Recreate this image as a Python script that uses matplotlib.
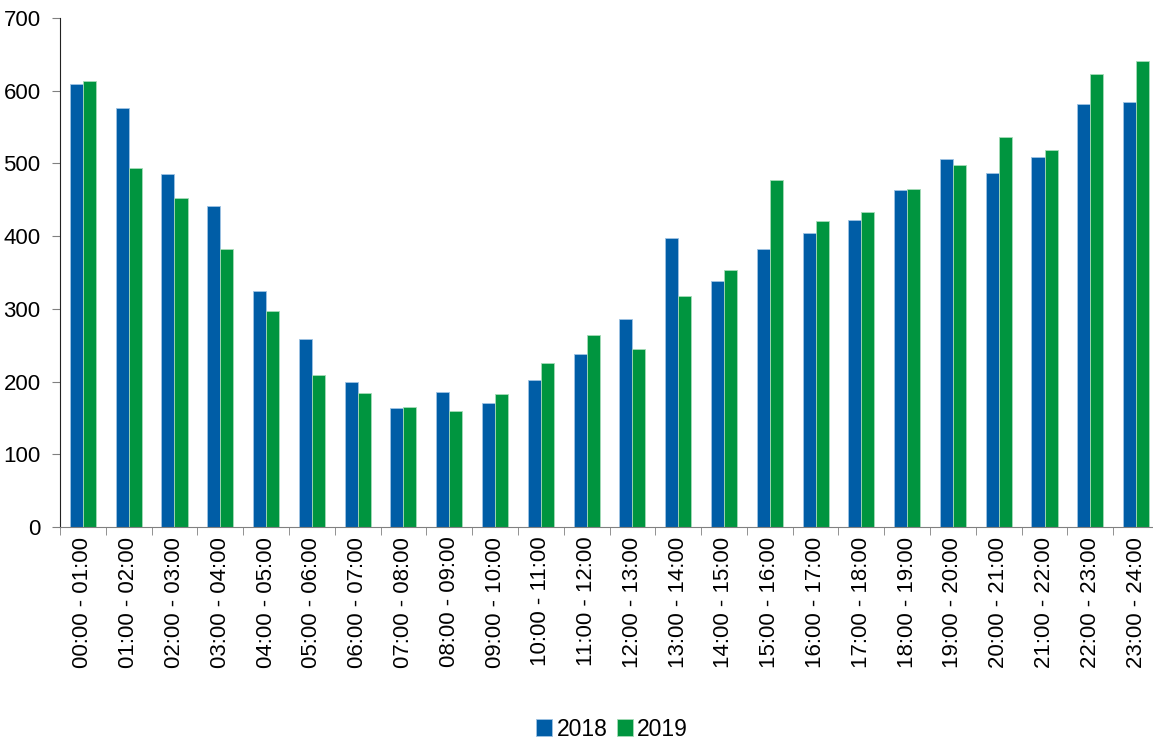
import numpy as np
import matplotlib.pyplot as plt

plt.rcParams['font.family'] = ['Liberation Sans', 'DejaVu Sans']

hours = [f"{h:02d}:00 - {h + 1:02d}:00" for h in range(24)]
v2018 = [609, 576, 485, 441, 324, 258, 199, 164, 186, 171, 202, 238,
         286, 397, 338, 382, 404, 422, 463, 506, 487, 509, 582, 584]
v2019 = [613, 494, 452, 382, 297, 209, 184, 165, 160, 183, 226, 264,
         245, 318, 353, 477, 421, 433, 465, 498, 536, 518, 623, 641]

fig = plt.figure(figsize=(11.53, 7.42), dpi=100)
ax = fig.add_axes([60 / 1153, 1 - 527 / 742, 1099 / 1153, (527 - 18) / 742])

x = np.arange(len(hours))
w = 0.285
ax.bar(x - w / 2, v2018, w, color="#005DA6", edgecolor="#9fc3e3", linewidth=0.6, label="2018")
ax.bar(x + w / 2, v2019, w, color="#00953F", edgecolor="#a6dbb8", linewidth=0.6, label="2019")

ax.set_xlim(-0.5, len(hours) - 0.5)
ax.set_ylim(0, 700)
ax.set_yticks(range(0, 701, 100))
ax.set_xticks(x)
ax.set_xticklabels(hours, rotation=90, fontsize=16)
ax.set_xticks(np.arange(-0.5, len(hours), 1.0), minor=True)
ax.tick_params(axis="x", which="major", length=0, pad=7)
ax.tick_params(axis="x", which="minor", length=6, color="#808080", direction="out")
ax.tick_params(axis="y", labelsize=16, length=6, color="#808080", pad=8)

for s in ["top", "right"]:
    ax.spines[s].set_visible(False)
ax.spines["left"].set_color("#222222")
ax.spines["bottom"].set_color("#808080")

ax.legend(loc="center", bbox_to_anchor=(552 / 1099, (527 - 729) / 509), ncol=2, frameon=False,
          fontsize=16.5, handlelength=0.7, handleheight=0.7, handletextpad=0.2, columnspacing=0.4)

fig.savefig("out.png", dpi=100)
